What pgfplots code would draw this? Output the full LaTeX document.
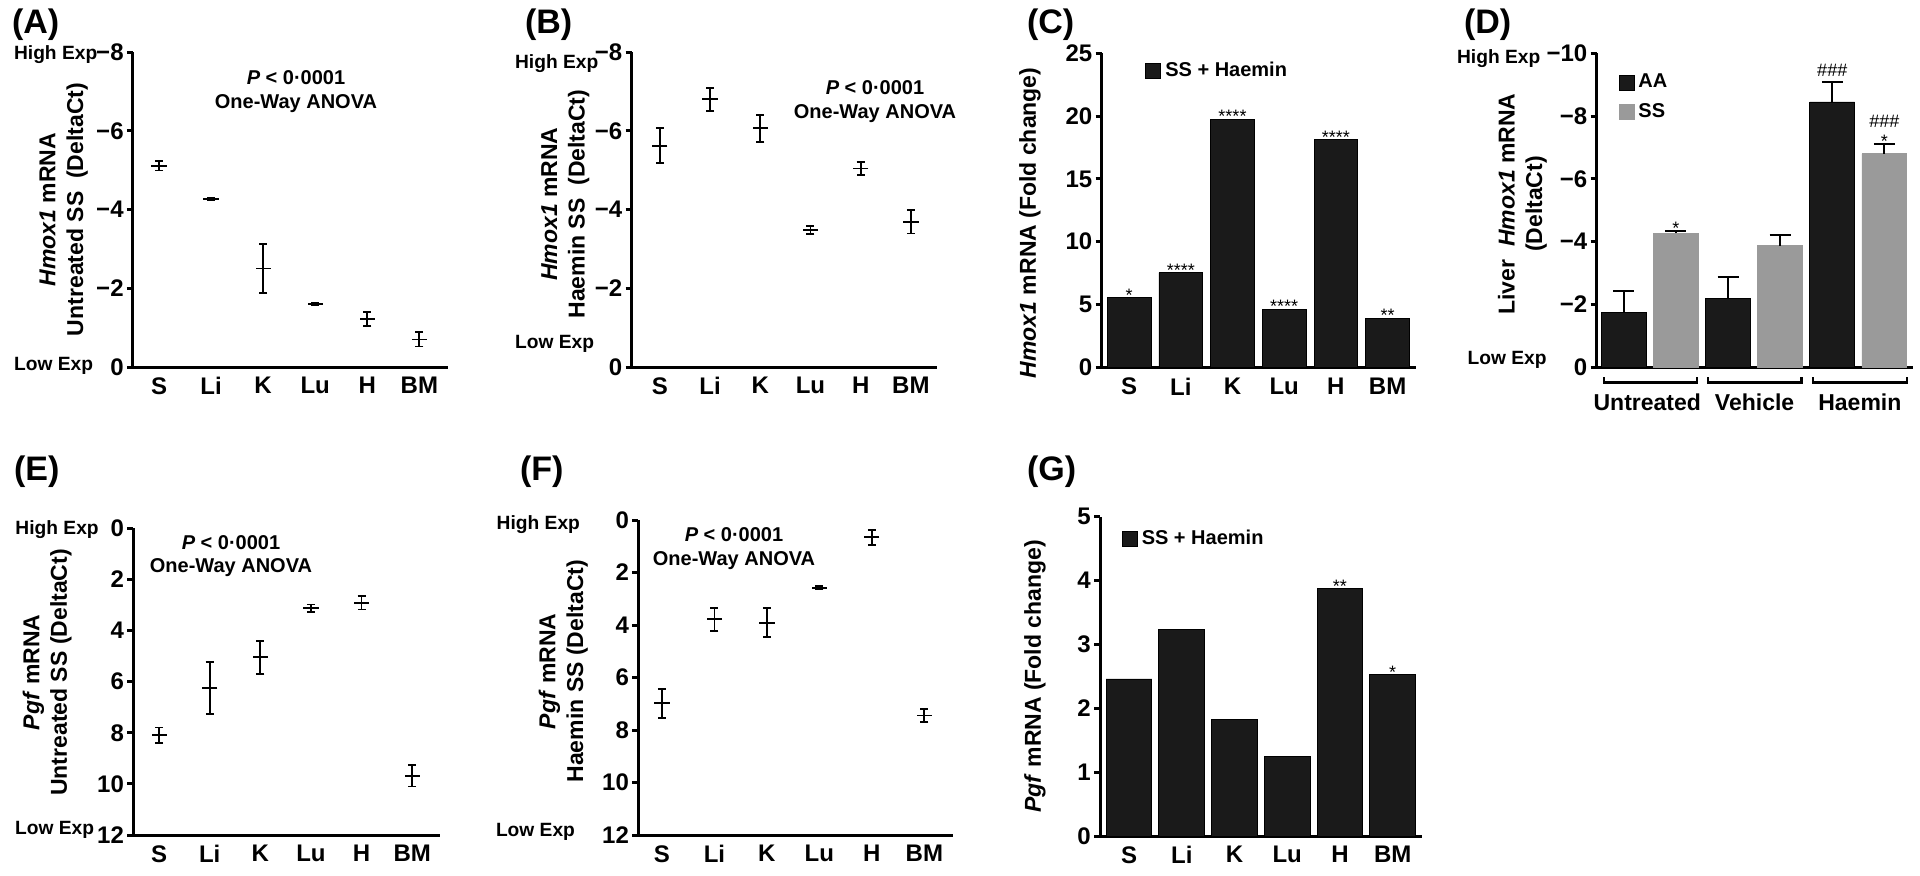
\documentclass[border=0pt]{standalone}
\usepackage{fontspec}
\setmainfont{Liberation Sans}
\usepackage{pgfplots}
\pgfplotsset{compat=1.18}

\newcommand\tkf{\fontsize{12}{13.8}\selectfont\bfseries}
\newcommand\lbf{\fontsize{11.5}{13.8}\selectfont\bfseries}
\newcommand\anf{\fontsize{10}{11.7}\selectfont\bfseries}
\newcommand\exf{\fontsize{9.6}{11}\selectfont\bfseries}
\newcommand\stf{\fontsize{9}{10}\selectfont}
\newcommand\pnf{\fontsize{17}{19}\selectfont\bfseries}

\definecolor{barblack}{HTML}{1A1A1A}
\definecolor{bargrey}{HTML}{9A9A9A}

\pgfplotsset{
  panel/.style={
    scale only axis, clip=false,
    axis x line*=bottom, axis y line*=left,
    axis line style={line width=1.5pt, black},
    tick align=outside,
    major tick length=3pt,
    ytick style={line width=1.5pt, black},
    xtick style={draw=none},
    ticklabel style={font=\tkf},
    xticklabel style={inner sep=2pt},
    yticklabel style={inner sep=1.5pt},
    /pgf/number format/assume math mode=true,
    label style={font=\lbf, align=center},
    xtick={0,...,5},
    xticklabels={S,Li,K,Lu,H,BM},
  },
  dots/.style={only marks, mark=-, mark size=3.8pt, black, line width=0.9pt,
    error bars/.cd, y dir=both, y explicit,
    error bar style={line width=0.9pt, black},
    error mark options={rotate=90, mark size=2pt, line width=0.9pt, black}},
  legsq/.style={legend image code/.code={\fill[##1] (0pt,-3.75pt) rectangle (7.5pt,3.75pt);},
    legend cell align=left},
  stars/.style={nodes near coords, point meta=explicit symbolic,
    every node near coord/.append style={font=\stf, text=black, anchor=south, inner sep=0pt, yshift=-2pt}},
}

\begin{document}
\begin{tikzpicture}
\useasboundingbox (0,0) rectangle (960pt,437.5pt);

% panel letters
\node[anchor=west, font=\pnf] at (2.5pt,425pt) {(A)};
\node[anchor=west, font=\pnf] at (259pt,425pt) {(B)};
\node[anchor=west, font=\pnf] at (510pt,425pt) {(C)};
\node[anchor=west, font=\pnf] at (728.5pt,425pt) {(D)};
\node[anchor=west, font=\pnf] at (3.5pt,201.7pt) {(E)};
\node[anchor=west, font=\pnf] at (256.5pt,201.7pt) {(F)};
\node[anchor=west, font=\pnf] at (510pt,201.7pt) {(G)};

% expression hints
\node[anchor=west, font=\exf] at (3.5pt,410pt) {High Exp};
\node[anchor=west, font=\exf] at (3.5pt,254.5pt) {Low Exp};
\node[anchor=west, font=\exf] at (254pt,405.8pt) {High Exp};
\node[anchor=west, font=\exf] at (254pt,265.8pt) {Low Exp};
\node[anchor=west, font=\exf] at (725pt,408.2pt) {High Exp};
\node[anchor=west, font=\exf] at (730.3pt,257.5pt) {Low Exp};
\node[anchor=west, font=\exf] at (4.2pt,172.8pt) {High Exp};
\node[anchor=west, font=\exf] at (4pt,22.8pt) {Low Exp};
\node[anchor=east, font=\exf] at (293.5pt,175pt) {High Exp};
\node[anchor=east, font=\exf] at (291pt,21.7pt) {Low Exp};

% ANOVA notes
\node[align=center, font=\anf] at (148pt,391.7pt) {\textit{P} < 0·0001\\One-Way ANOVA};
\node[align=center, font=\anf] at (437.5pt,386.7pt) {\textit{P} < 0·0001\\One-Way ANOVA};
\node[align=center, font=\anf] at (115.5pt,159.5pt) {\textit{P} < 0·0001\\One-Way ANOVA};
\node[align=center, font=\anf] at (367pt,163.3pt) {\textit{P} < 0·0001\\One-Way ANOVA};

% (A)
\begin{axis}[panel, at={(66.5pt,254pt)}, width=157.5pt, height=157.5pt,
  y dir=reverse,
  xmin=-0.5, xmax=5.55, ymin=-8, ymax=0,
  ytick={-8,-6,-4,-2,0}, yticklabels={−8,−6,−4,−2,0},
  ylabel={\textit{Hmox1} mRNA\\Untreated SS\ \ (DeltaCt)},
  ylabel style={at={(axis description cs:-0.22,0.5)}, anchor=center}]
\addplot[dots] coordinates {(0,-5.11) +- (0,0.12) (1,-4.27) +- (0,0.03) (2,-2.50) +- (0,0.63)
  (3,-1.60) +- (0,0.04) (4,-1.22) +- (0,0.18) (5,-0.70) +- (0,0.18)};
\end{axis}

% (B)
\begin{axis}[panel, at={(315.85pt,254pt)}, width=152.65pt, height=157.5pt,
  y dir=reverse,
  xmin=-0.56, xmax=5.52, ymin=-8, ymax=0,
  ytick={-8,-6,-4,-2,0}, yticklabels={−8,−6,−4,−2,0},
  ylabel={\textit{Hmox1} mRNA\\Haemin SS\ \ (DeltaCt)},
  ylabel style={at={(axis description cs:-0.2175,0.517)}, anchor=center}]
\addplot[dots] coordinates {(0,-5.62) +- (0,0.44) (1,-6.80) +- (0,0.29) (2,-6.06) +- (0,0.34)
  (3,-3.48) +- (0,0.10) (4,-5.04) +- (0,0.17) (5,-3.69) +- (0,0.30)};
\end{axis}

% (C)
\begin{axis}[panel, at={(550.85pt,253.85pt)}, width=157.15pt, height=157pt,
  xmin=-0.53, xmax=5.55, ymin=0, ymax=25, ytick={0,5,...,25},
  ylabel={\textit{Hmox1} mRNA (Fold change)},
  ylabel style={at={(axis description cs:-0.228,0.46)}, anchor=center},
  legsq, legend style={draw=none, fill=none, inner sep=0pt, font=\anf,
    at={(axis description cs:0.138,0.944)}, anchor=west}]
\addplot[ybar, bar width=0.845, bar shift=0pt, fill=barblack, draw=black, line width=0.4pt, stars]
  coordinates {(0,5.54) [*] (1,7.53) [****] (2,19.74) [****] (3,4.64) [****] (4,18.12) [****] (5,3.90) [**]};
\legend{SS + Haemin}
\end{axis}

% (D)
\begin{axis}[panel, at={(798.35pt,253.85pt)}, width=158.15pt, height=157pt,
  y dir=reverse,
  xmin=-0.52, xmax=5.55, ymin=-10, ymax=0, xtick=\empty,
  ytick={-10,-8,-6,-4,-2,0}, yticklabels={−10,−8,−6,−4,−2,0},
  ylabel={Liver\ \ \textit{Hmox1} mRNA\\(DeltaCt)},
  ylabel style={at={(axis description cs:-0.235,0.52)}, anchor=center},
  legsq, legend style={draw=none, fill=none, inner sep=0pt, font=\anf, row sep=2.5pt,
    at={(axis description cs:0.068,0.948)}, anchor=north west}]
\addplot[ybar, bar width=0.86, bar shift=0pt, fill=barblack, draw=black, line width=0.4pt,
  error bars/.cd, y dir=minus, y explicit, error bar style={line width=0.9pt, black},
  error mark options={rotate=90, mark size=5.25pt, line width=0.9pt, black}]
  coordinates {(0,-1.76) +- (0,0.68) (2,-2.20) +- (0,0.67) (4,-8.45) +- (0,0.64)};
\addplot[ybar, bar width=0.86, bar shift=0pt, fill=bargrey, draw=bargrey, line width=0.4pt,
  error bars/.cd, y dir=minus, y explicit, error bar style={line width=0.9pt, black},
  error mark options={rotate=90, mark size=5.25pt, line width=0.9pt, black}]
  coordinates {(1,-4.27) +- (0,0.08) (3,-3.87) +- (0,0.34) (5,-6.80) +- (0,0.30)};
\legend{AA,SS}
\node[font=\stf, anchor=south, inner sep=0pt, yshift=-2pt] at (axis cs:1,-4.35) {*};
\node[font=\stf, anchor=south, inner sep=0pt, yshift=2.3pt] at (axis cs:4,-9.09) {\#\#\#};
\node[font=\stf, anchor=south, inner sep=0pt, yshift=-2pt] at (axis cs:5,-7.10) {*};
\node[font=\stf, anchor=south, inner sep=0pt, yshift=8pt] at (axis cs:5,-7.10) {\#\#\#};
\draw[line width=1.2pt] (axis cs:-0.38,0.31) |- (axis cs:1.40,0.49) -- (axis cs:1.40,0.31);
\draw[line width=1.2pt] (axis cs:1.62,0.31) |- (axis cs:3.41,0.49) -- (axis cs:3.41,0.31);
\draw[line width=1.2pt] (axis cs:3.63,0.31) |- (axis cs:5.43,0.49) -- (axis cs:5.43,0.31);
\node[font=\lbf] at (axis cs:0.45,1.1) {Untreated};
\node[font=\lbf] at (axis cs:2.51,1.1) {Vehicle};
\node[font=\lbf] at (axis cs:4.53,1.1) {Haemin};
\end{axis}

% (E)
\begin{axis}[panel, at={(66.65pt,20pt)}, width=153.35pt, height=153.35pt,
  y dir=reverse,
  xmin=-0.51, xmax=5.55, ymin=0, ymax=12, ytick={0,2,...,12},
  ylabel={\textit{Pgf} mRNA\\Untreated SS (DeltaCt)},
  ylabel style={at={(axis description cs:-0.281,0.53)}, anchor=center}]
\addplot[dots] coordinates {(0,8.09) +- (0,0.30) (1,6.24) +- (0,1.02) (2,5.05) +- (0,0.64)
  (3,3.13) +- (0,0.15) (4,2.91) +- (0,0.27) (5,9.68) +- (0,0.42)};
\end{axis}

% (F)
\begin{axis}[panel, at={(319.15pt,20pt)}, width=157.2pt, height=157.5pt,
  y dir=reverse,
  xmin=-0.45, xmax=5.54, ymin=0, ymax=12, ytick={0,2,...,12},
  ylabel={\textit{Pgf} mRNA\\Haemin SS (DeltaCt)},
  ylabel style={at={(axis description cs:-0.2385,0.52)}, anchor=center}]
\addplot[dots] coordinates {(0,6.98) +- (0,0.55) (1,3.78) +- (0,0.44) (2,3.91) +- (0,0.55)
  (3,2.58) +- (0,0.07) (4,0.66) +- (0,0.28) (5,7.45) +- (0,0.25)};
\end{axis}

% (G)
\begin{axis}[panel, at={(550pt,19.5pt)}, width=160.85pt, height=159.65pt,
  xmin=-0.55, xmax=5.55, ymin=0, ymax=5, ytick={0,...,5},
  ylabel={\textit{Pgf} mRNA (Fold change)},
  ylabel style={at={(axis description cs:-0.202,0.5)}, anchor=center},
  legsq, legend style={draw=none, fill=none, inner sep=0pt, font=\anf,
    at={(axis description cs:0.067,0.93)}, anchor=west}]
\addplot[ybar, bar width=0.867, bar shift=0pt, fill=barblack, draw=black, line width=0.4pt, stars]
  coordinates {(0,2.46) [] (1,3.23) [] (2,1.82) [] (3,1.25) [] (4,3.87) [**] (5,2.53) [*]};
\legend{SS + Haemin}
\end{axis}
\end{tikzpicture}
\end{document}
